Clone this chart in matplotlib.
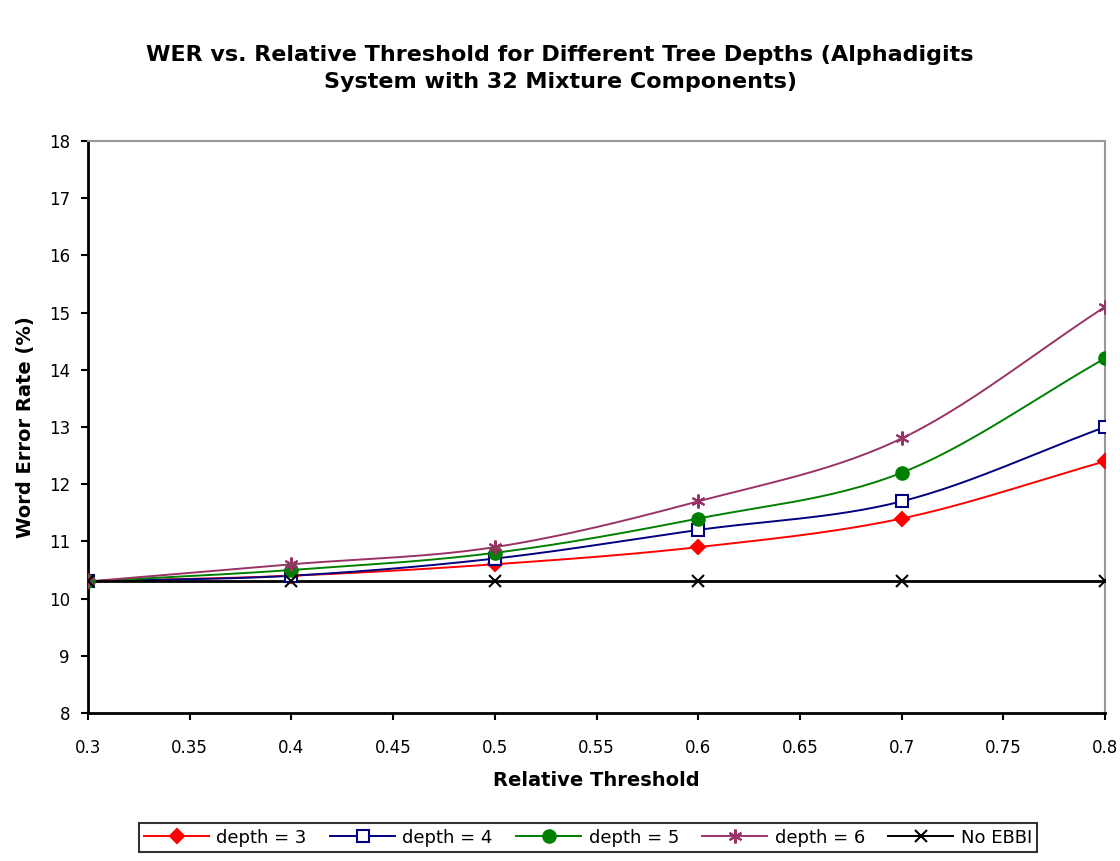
import numpy as np
import matplotlib
matplotlib.use("Agg")
import matplotlib.pyplot as plt
from matplotlib.lines import Line2D

plt.rcParams['font.family'] = ['DejaVu Sans']

thresholds = [0.3, 0.4, 0.5, 0.6, 0.7, 0.8]
depth3 = [10.3, 10.4, 10.6, 10.9, 11.4, 12.4]
depth4 = [10.3, 10.4, 10.7, 11.2, 11.7, 13.0]
depth5 = [10.3, 10.5, 10.8, 11.4, 12.2, 14.2]
depth6 = [10.3, 10.6, 10.9, 11.7, 12.8, 15.1]
no_ebbi = [10.3, 10.3, 10.3, 10.3, 10.3, 10.3]

series = [
    ("depth = 3", depth3, "#ff0000", "D", "#ff0000", "#ff0000", 7),
    ("depth = 4", depth4, "#000080", "s", "white", "#000080", 9),
    ("depth = 5", depth5, "#008000", "o", "#008000", "#008000", 9),
    ("depth = 6", depth6, "#993366", (6, 2, 0), "#993366", "#993366", 10),
    ("No EBBI", no_ebbi, "#000000", "x", "#000000", "#000000", 8),
]


def smooth(x, y, n=30):
    # Catmull-Rom rendering of the line between the data points (visual smoothing only)
    x = np.asarray(x, float); y = np.asarray(y, float)
    px = np.concatenate([[2 * x[0] - x[1]], x, [2 * x[-1] - x[-2]]])
    py = np.concatenate([[2 * y[0] - y[1]], y, [2 * y[-1] - y[-2]]])
    xs, ys = [], []
    for i in range(1, len(px) - 2):
        t = np.linspace(0, 1, n, endpoint=False)
        for arr, out in ((px, xs), (py, ys)):
            p0, p1, p2, p3 = arr[i - 1], arr[i], arr[i + 1], arr[i + 2]
            out.extend(0.5 * ((2 * p1) + (-p0 + p2) * t + (2 * p0 - 5 * p1 + 4 * p2 - p3) * t ** 2
                              + (-p0 + 3 * p1 - 3 * p2 + p3) * t ** 3))
    xs.append(x[-1]); ys.append(y[-1])
    return np.array(xs), np.array(ys)


fig = plt.figure(figsize=(11.2, 8.61), dpi=100)
ax = fig.add_axes([0.0786, 0.1719, 0.908, 0.6643])

handles = []
for label, vals, col, mk, fc, ec, ms in series:
    sx, sy = smooth(thresholds, vals)
    lw = 2.0 if label == "No EBBI" else 1.4
    ax.plot(sx, sy, color=col, lw=lw, zorder=2)
    ax.plot(thresholds, vals, linestyle='none', marker=mk, markersize=ms,
            markerfacecolor=fc, markeredgecolor=ec, markeredgewidth=1.5, zorder=3)
    handles.append(Line2D([0], [0], color=col, lw=1.4, marker=mk, markersize=ms,
                          markerfacecolor=fc, markeredgecolor=ec, markeredgewidth=1.5, label=label))

ax.set_xlim(0.3, 0.8)
ax.set_ylim(8, 18)
ax.set_xticks(np.arange(0.3, 0.8001, 0.05))
ax.set_xticklabels(["0.3", "0.35", "0.4", "0.45", "0.5", "0.55", "0.6", "0.65", "0.7", "0.75", "0.8"])
ax.set_yticks(range(8, 19))
ax.tick_params(direction='out', length=5, width=1.5, labelsize=12)
ax.tick_params(axis='x', pad=14)
ax.tick_params(axis='y', pad=8)

for s in ('left', 'bottom'):
    ax.spines[s].set_color('black')
    ax.spines[s].set_linewidth(2)
for s in ('top', 'right'):
    ax.spines[s].set_color('#999999')
    ax.spines[s].set_linewidth(1.5)

ax.set_xlabel("Relative Threshold", fontsize=14, fontweight='bold', labelpad=10)
ax.set_ylabel("Word Error Rate (%)", fontsize=14, fontweight='bold', labelpad=10)

fig.text(0.5, 0.948, "WER vs. Relative Threshold for Different Tree Depths (Alphadigits\nSystem with 32 Mixture Components)",
         ha='center', va='top', fontsize=16, fontweight='bold', linespacing=1.45)

leg = fig.legend(handles=handles, loc='center', bbox_to_anchor=(0.525, 0.027), ncol=5,
                 fontsize=13, frameon=True, fancybox=False, edgecolor='black',
                 handlelength=3.6, columnspacing=1.3, handletextpad=0.4, borderpad=0.3)
leg.get_frame().set_linewidth(1.5)

fig.savefig("out.png", dpi=100)
